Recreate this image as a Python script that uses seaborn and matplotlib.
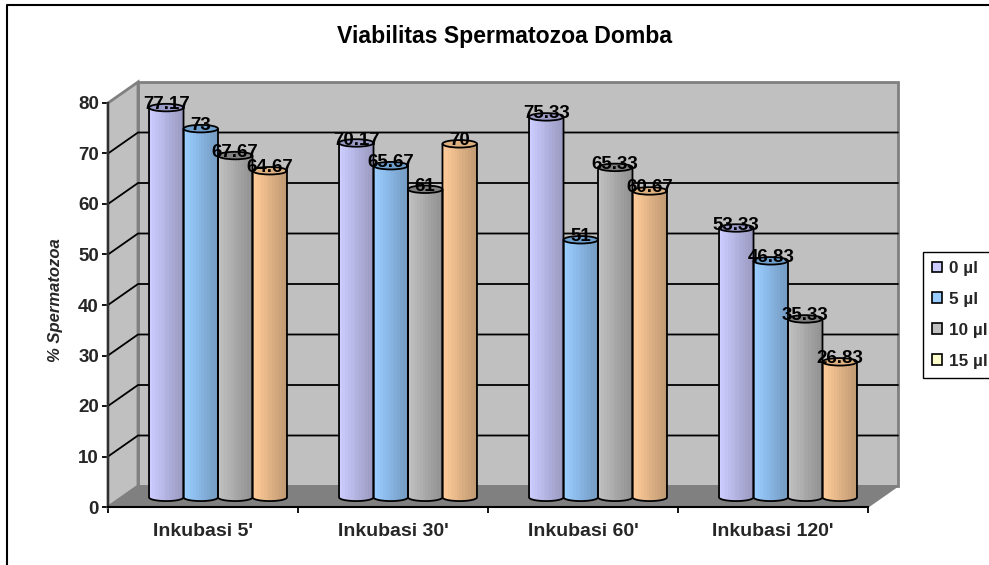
import numpy as np
import pandas as pd
import matplotlib
matplotlib.use("Agg")
import matplotlib.pyplot as plt
from matplotlib.colors import to_rgb
from matplotlib.lines import Line2D
from matplotlib.patches import Ellipse, PathPatch, Patch, Polygon, Rectangle
from matplotlib.path import Path
import seaborn as sns

# values
categories = ["Inkubasi 5'", "Inkubasi 30'", "Inkubasi 60'", "Inkubasi 120'"]
doses = ["0 µl", "5 µl", "10 µl", "15 µl"]
dose_0 = [77.17, 70.17, 75.33, 53.33]
dose_5 = [73, 65.67, 51, 46.83]
dose_10 = [67.67, 61, 65.33, 35.33]
dose_15 = [64.67, 70, 60.67, 26.83]
series = [dose_0, dose_5, dose_10, dose_15]

bar_colors = ["#CCCCFF", "#99CCFF", "#C0C0C0", "#FFCC99"]
top_colors = ["#9C9CC8", "#6F9FCC", "#808080", "#DDB080"]
legend_colors = ["#CCCCFF", "#99CCFF", "#C0C0C0", "#FFFFCC"]

df = pd.DataFrame({"kategori": categories, doses[0]: dose_0, doses[1]: dose_5,
                   doses[2]: dose_10, doses[3]: dose_15})
df = df.melt(id_vars="kategori", var_name="dosis", value_name="nilai")

sns.set_theme(style="white")
plt.rcParams["font.family"] = ["Liberation Sans", "DejaVu Sans"]
plt.rcParams["font.weight"] = "bold"

fig = plt.figure(figsize=(9.89, 5.65), dpi=100, facecolor="white")
ax = fig.add_axes([108 / 989, 58 / 565, 760 / 989, 404 / 565])
ax.patch.set_alpha(0)

# depth of the fake 3D box, in data units
depth_x = 30 / 190
depth_y = 21 / 5.05
x0, x1 = -0.5, 3.5
y_max = 80

# walls and floor
ax.add_patch(Rectangle((x0 + depth_x, depth_y), x1 - x0, y_max, fc="#C0C0C0", ec="#808080",
                       lw=2, clip_on=False, zorder=0.5))
ax.add_patch(Polygon([(x0, 0), (x0 + depth_x, depth_y), (x0 + depth_x, y_max + depth_y), (x0, y_max)],
                     fc="#C0C0C0", ec="#808080", lw=2, clip_on=False, zorder=0.6))
ax.add_patch(Polygon([(x0, 0), (x1, 0), (x1 + depth_x, depth_y), (x0 + depth_x, depth_y)],
                     fc="#808080", ec="#808080", lw=1, clip_on=False, zorder=0.7))
for t in range(10, y_max, 10):
    ax.plot([x0, x0 + depth_x, x1 + depth_x], [t, t + depth_y, t + depth_y], color="black",
            lw=1.3, clip_on=False, zorder=1)

sns.barplot(data=df, x="kategori", y="nilai", hue="dosis", hue_order=doses, palette=bar_colors,
            width=0.726, gap=0, dodge=True, saturation=1, legend=False, ax=ax, zorder=2, linewidth=0)

ell_h = 7.5 / 5.05
shift_x = depth_x / 2
shift_y = depth_y / 2 - 0.16
theta = np.linspace(np.pi, 2 * np.pi, 40)

for i, cont in enumerate(ax.containers):
    light = np.array(to_rgb(bar_colors[i]))
    shades = np.linspace(1.0, 0.76, 12)[None, :, None] * light[None, None, :]
    for rect in cont:
        rect.set_x(rect.get_x() + shift_x)
        rect.set_y(shift_y)
        left = rect.get_x()
        w = rect.get_width()
        top = rect.get_y() + rect.get_height()
        cx = left + w / 2
        xs = np.r_[left, cx + w / 2 * np.cos(theta), left + w]
        ys = np.r_[top, shift_y + ell_h / 2 * np.sin(theta), top]
        body = PathPatch(Path(np.c_[xs, ys]), fc="none", ec="black", lw=1.3, zorder=4, clip_on=False)
        ax.add_patch(body)
        img = ax.imshow(shades, extent=[left, left + w, shift_y - ell_h, top], aspect="auto",
                        interpolation="nearest", zorder=3)
        img.set_clip_path(body)
        ax.add_patch(Ellipse((cx, top), w, ell_h, fc=top_colors[i], ec="black", lw=1.3, zorder=5, clip_on=False))
    ax.bar_label(cont, labels=[f"{v:g}" for v in series[i]], padding=-4, fontsize=13.5, fontweight="bold",
                 color="black", zorder=10)

ax.set_xlim(x0, x1)
ax.set_ylim(0, y_max)
ax.set_yticks(range(0, 81, 10))
ax.set_xticks(np.arange(x0, x1 + 0.5, 1), minor=False, labels=[""] * 5)
ax.set_xticks(range(4), labels=categories, minor=True)
ax.tick_params(axis="x", which="major", length=4.5, width=1.3, color="black", bottom=True)
ax.tick_params(axis="x", which="minor", length=0, labelsize=14, pad=11.5, bottom=False)
ax.tick_params(axis="y", length=4.5, width=1.3, color="black", labelsize=13.5, pad=2, left=True)
for lab in ax.get_xminorticklabels():
    lab.set_fontweight("bold")
ax.set_xlabel("")
ax.set_ylabel("% Spermatozoa", fontsize=12, fontweight="bold", style="italic", labelpad=11, y=0.512)
sns.despine(ax=ax)
ax.spines["left"].set_color("#303030")
ax.spines["left"].set_linewidth(1.6)
ax.spines["bottom"].set_color("black")
ax.spines["bottom"].set_linewidth(1.5)
ax.set_zorder(1)

fig.text(505 / 989, 1 - 37 / 565, "Viabilitas Spermatozoa Domba", ha="center", va="center",
         fontsize=16.6, fontweight="bold", color="black")

# legend runs off the right edge like in the source
handles = [Patch(fc=c, ec="black", lw=1.2, label=d) for c, d in zip(legend_colors, doses)]
fig.legend(handles=handles, loc="upper left", bbox_to_anchor=(923 / 989, 1 - 252 / 565),
           fancybox=False, framealpha=1, edgecolor="black", fontsize=12.3, handlelength=0.6,
           handleheight=0.6, handletextpad=0.4, labelspacing=0.93, borderaxespad=0, borderpad=0.53)

# outer chart frame, only left and top fall inside the image
fig.add_artist(Line2D([7 / 989, 7 / 989, 1], [0, 1 - 4.5 / 565, 1 - 4.5 / 565], color="black", lw=1.5))

fig.savefig("out.png", dpi=100)
